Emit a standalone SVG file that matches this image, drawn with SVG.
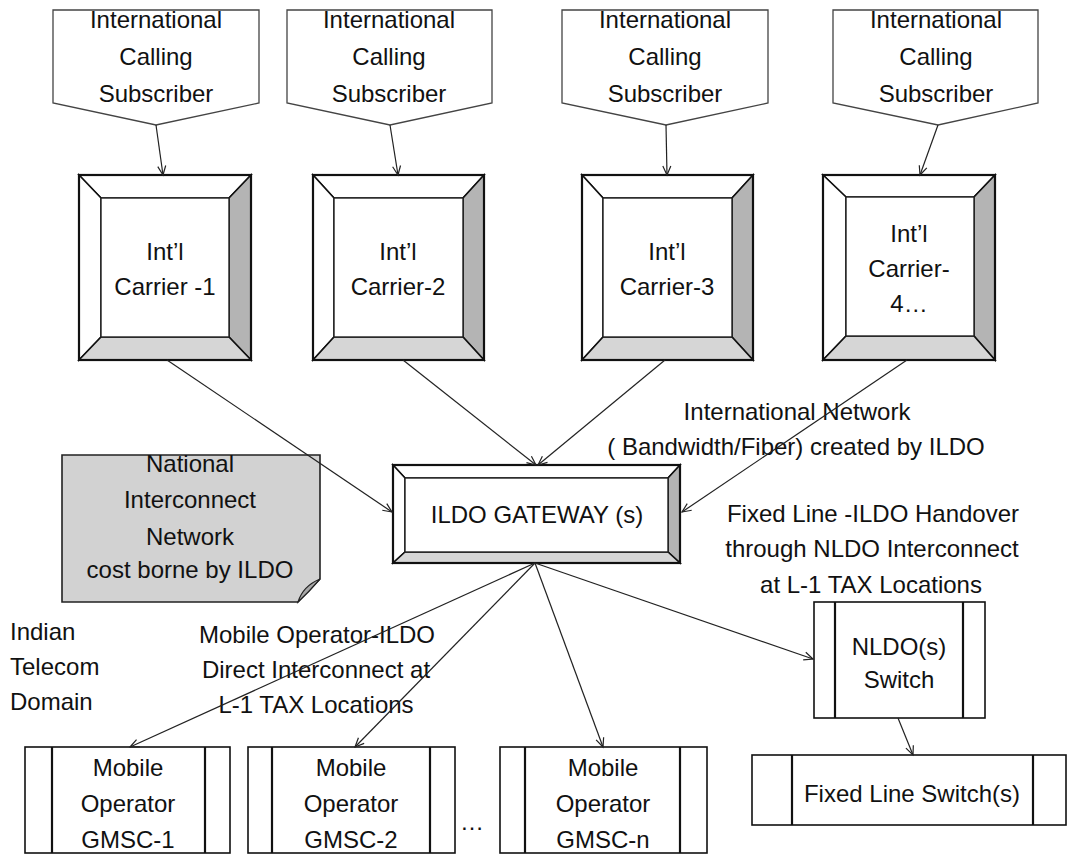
<svg xmlns="http://www.w3.org/2000/svg" width="1068" height="855" viewBox="0 0 1068 855">
<defs>
<style>
text{font-family:"Liberation Sans",Arial,sans-serif;font-size:24px;fill:#111;text-anchor:middle}
.l{text-anchor:start}
.sub{fill:#fff;stroke:#444;stroke-width:1.3}
.out{fill:none;stroke:#111;stroke-width:2.2}
.bw{fill:#fff;stroke:#111;stroke-width:1.6}
.bd{fill:#b4b4b4;stroke:#111;stroke-width:1.6}
.bl{fill:#d6d6d6;stroke:#111;stroke-width:1.6}
.in{fill:#fff;stroke:#222;stroke-width:1.4}
.proc{fill:#fff;stroke:#111;stroke-width:1.6}
.bar{stroke:#111;stroke-width:2.2}
.con line{stroke:#222;stroke-width:1.2;marker-end:url(#ah)}
.note{fill:#d2d2d2;stroke:#222;stroke-width:1.6}
</style>
<marker id="ah" markerWidth="12" markerHeight="12" refX="10" refY="5" orient="auto" markerUnits="userSpaceOnUse">
<path d="M1,1 L10,5 L1,9" fill="none" stroke="#222" stroke-width="1.2"/>
</marker>
</defs>

<g id="sub1"><path class="sub" d="M53,10 H259 V103 L156,125 L53,103 Z"/><text x="156" y="28">International</text><text x="156" y="65">Calling</text><text x="156" y="102">Subscriber</text></g>
<g id="sub2"><path class="sub" d="M287,10 H492 V103 L390,125 L287,103 Z"/><text x="389" y="28">International</text><text x="389" y="65">Calling</text><text x="389" y="102">Subscriber</text></g>
<g id="sub3"><path class="sub" d="M562,10 H768 V103 L666,125 L562,103 Z"/><text x="665" y="28">International</text><text x="665" y="65">Calling</text><text x="665" y="102">Subscriber</text></g>
<g id="sub4"><path class="sub" d="M833,10 H1038 V103 L938,125 L833,103 Z"/><text x="936" y="28">International</text><text x="936" y="65">Calling</text><text x="936" y="102">Subscriber</text></g>

<g id="carrier1">
<polygon class="bw" points="79,175 251,175 229,198 101,198"/>
<polygon class="bw" points="79,175 101,198 101,337 79,360"/>
<polygon class="bd" points="251,175 251,360 229,337 229,198"/>
<polygon class="bl" points="79,360 251,360 229,337 101,337"/>
<rect class="in" x="101" y="198" width="128" height="139"/>
<rect class="out" x="79" y="175" width="172" height="185"/>
<text x="165" y="260">Int’l</text><text x="165" y="295">Carrier -1</text>
</g>
<g id="carrier2">
<polygon class="bw" points="313,175 484,175 463,198 334,198"/>
<polygon class="bw" points="313,175 334,198 334,337 313,360"/>
<polygon class="bd" points="484,175 484,360 463,337 463,198"/>
<polygon class="bl" points="313,360 484,360 463,337 334,337"/>
<rect class="in" x="334" y="198" width="129" height="139"/>
<rect class="out" x="313" y="175" width="171" height="185"/>
<text x="398" y="260">Int’l</text><text x="398" y="295">Carrier-2</text>
</g>
<g id="carrier3">
<polygon class="bw" points="582,175 753,175 732,198 603,198"/>
<polygon class="bw" points="582,175 603,198 603,337 582,360"/>
<polygon class="bd" points="753,175 753,360 732,337 732,198"/>
<polygon class="bl" points="582,360 753,360 732,337 603,337"/>
<rect class="in" x="603" y="198" width="129" height="139"/>
<rect class="out" x="582" y="175" width="171" height="185"/>
<text x="667" y="260">Int’l</text><text x="667" y="295">Carrier-3</text>
</g>
<g id="carrier4">
<polygon class="bw" points="823,175 995,175 974,197 846,197"/>
<polygon class="bw" points="823,175 846,197 846,336 823,360"/>
<polygon class="bd" points="995,175 995,360 974,336 974,197"/>
<polygon class="bl" points="823,360 995,360 974,336 846,336"/>
<rect class="in" x="846" y="197" width="128" height="139"/>
<rect class="out" x="823" y="175" width="172" height="185"/>
<text x="909" y="242">Int’l</text><text x="909" y="277">Carrier-</text><text x="909" y="312">4…</text>
</g>

<g id="gateway">
<polygon class="bw" points="393,465 680,465 668,478 405,478"/>
<polygon class="bw" points="393,465 405,478 405,552 393,563"/>
<polygon class="bd" points="680,465 680,563 668,552 668,478"/>
<polygon class="bl" points="393,563 680,563 668,552 405,552"/>
<rect class="in" x="405" y="478" width="263" height="74"/>
<rect class="out" x="393" y="465" width="287" height="98"/>
<text x="537" y="523">ILDO GATEWAY (s)</text>
</g>

<g id="note">
<path class="note" d="M62,455 H320 V579 L298,602 H62 Z"/>
<path d="M298,602 Q303,586 320,579 Q309,592 298,602 Z" fill="#a8a8a8" stroke="#222" stroke-width="1.2"/>
<text x="190" y="472">National</text><text x="190" y="508">Interconnect</text><text x="190" y="545">Network</text><text x="190" y="578">cost borne by ILDO</text>
</g>

<g id="domain"><text class="l" x="10" y="640">Indian</text><text class="l" x="10" y="675">Telecom</text><text class="l" x="10" y="710">Domain</text></g>

<g id="labels">
<text x="797" y="420">International Network</text>
<text x="796" y="455">( Bandwidth/Fiber) created by ILDO</text>
<text x="873" y="522">Fixed Line -ILDO Handover</text>
<text x="872" y="557">through NLDO Interconnect</text>
<text x="871" y="593">at L-1 TAX Locations</text>
<text x="317" y="643">Mobile Operator-ILDO</text>
<text x="316" y="678">Direct Interconnect at</text>
<text x="316" y="713">L-1 TAX Locations</text>
</g>

<g id="gmsc1"><rect class="proc" x="25" y="747" width="205" height="106"/><line class="bar" x1="52" y1="747" x2="52" y2="853"/><line class="bar" x1="205" y1="747" x2="205" y2="853"/><text x="128" y="776">Mobile</text><text x="128" y="812">Operator</text><text x="128" y="848">GMSC-1</text></g>
<g id="gmsc2"><rect class="proc" x="248" y="747" width="207" height="106"/><line class="bar" x1="272" y1="747" x2="272" y2="853"/><line class="bar" x1="430" y1="747" x2="430" y2="853"/><text x="351" y="776">Mobile</text><text x="351" y="812">Operator</text><text x="351" y="848">GMSC-2</text></g>
<text x="472" y="830">…</text>
<g id="gmscn"><rect class="proc" x="500" y="747" width="207" height="106"/><line class="bar" x1="525" y1="747" x2="525" y2="853"/><line class="bar" x1="680" y1="747" x2="680" y2="853"/><text x="603" y="776">Mobile</text><text x="603" y="812">Operator</text><text x="603" y="848">GMSC-n</text></g>

<g id="nldo"><rect class="proc" x="814" y="602" width="171" height="116"/><line class="bar" x1="835" y1="602" x2="835" y2="718"/><line class="bar" x1="963" y1="602" x2="963" y2="718"/><text x="899" y="655">NLDO(s)</text><text x="899" y="688">Switch</text></g>
<g id="fixed"><rect class="proc" x="752" y="755" width="314" height="70"/><line class="bar" x1="792" y1="755" x2="792" y2="825"/><line class="bar" x1="1033" y1="755" x2="1033" y2="825"/><text x="912" y="802">Fixed Line Switch(s)</text></g>

<g id="connectors" class="con">
<line x1="156" y1="125" x2="163" y2="175"/>
<line x1="390" y1="125" x2="398" y2="175"/>
<line x1="666" y1="125" x2="667" y2="175"/>
<line x1="938" y1="125" x2="920" y2="175"/>
<line x1="167" y1="360" x2="392" y2="512"/>
<line x1="403" y1="360" x2="536" y2="465"/>
<line x1="665" y1="360" x2="538" y2="465"/>
<line x1="907" y1="360" x2="682" y2="512"/>
<line x1="535" y1="563" x2="130" y2="747"/>
<line x1="535" y1="563" x2="355" y2="747"/>
<line x1="535" y1="563" x2="603" y2="747"/>
<line x1="535" y1="563" x2="813" y2="659"/>
<line x1="898" y1="718" x2="913" y2="755"/>
</g>
</svg>
